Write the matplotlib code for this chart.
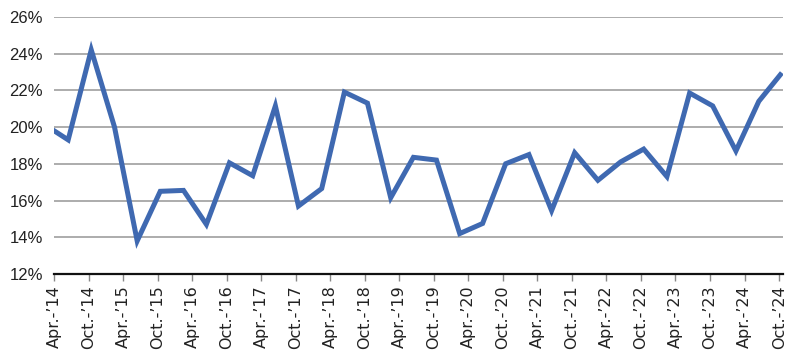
import matplotlib
matplotlib.use("Agg")
import matplotlib.pyplot as plt
import matplotlib.ticker as mticker
import pandas as pd

# Data (every four months)
dates = ["2014-02-15", "2014-06-15", "2014-10-15",
         "2015-02-15", "2015-06-15", "2015-10-15",
         "2016-02-15", "2016-06-15", "2016-10-15",
         "2017-02-15", "2017-06-15", "2017-10-15",
         "2018-02-15", "2018-06-15", "2018-10-15",
         "2019-02-15", "2019-06-15", "2019-10-15",
         "2020-02-15", "2020-06-15", "2020-10-15",
         "2021-02-15", "2021-06-15", "2021-10-15",
         "2022-02-15", "2022-06-15", "2022-10-15",
         "2023-02-15", "2023-06-15", "2023-10-15",
         "2024-02-15", "2024-06-15", "2024-10-15"]
values = [20.1, 19.3, 24.2,
          20.0, 13.8, 16.5,
          16.55, 14.7, 18.05,
          17.35, 21.15, 15.7,
          16.65, 21.9, 21.3,
          16.15, 18.35, 18.2,
          14.2, 14.75, 18.0,
          18.5, 15.45, 18.6,
          17.1, 18.1, 18.8,
          17.3, 21.85, 21.15,
          18.7, 21.4, 22.95]

tick_dates = pd.date_range("2014-04-01", "2024-10-01", freq="6MS")
tick_labels = [("Apr.-\u2019" if d.month == 4 else "Oct.-\u2019") + d.strftime("%y") for d in tick_dates]
y_ticks = [12, 14, 16, 18, 20, 22, 24, 26]

x = pd.to_datetime(dates)

fig = plt.figure(figsize=(8.0, 3.57), dpi=100)
ax = fig.add_axes([0.0675, 0.2325, 0.979 - 0.0675, 0.953 - 0.2325])

ax.plot(x, values, color="#3F69B1", linewidth=3.6, solid_joinstyle="miter", solid_capstyle="butt", zorder=3)

ax.set_xlim(pd.Timestamp("2014-04-01"), pd.Timestamp("2024-10-22"))
ax.set_ylim(12, 26)

ax.set_yticks(y_ticks)
ax.yaxis.set_major_formatter(mticker.FuncFormatter(lambda v, p: f"{v:.0f}%"))
ax.set_xticks(tick_dates)
ax.set_xticklabels(tick_labels, rotation=90, family=["Liberation Sans Narrow", "DejaVu Sans"], fontsize=11.5)

for lab in ax.get_yticklabels():
    lab.set_family(["Liberation Sans", "DejaVu Sans"])
    lab.set_fontsize(12)

ax.grid(axis="y", color="#A6A6A6", linewidth=1.3, zorder=0)
ax.set_axisbelow(True)
for s in ["top", "right", "left"]:
    ax.spines[s].set_visible(False)
ax.spines["bottom"].set_color("#111111")
ax.spines["bottom"].set_linewidth(1.6)
ax.spines["bottom"].set_zorder(4)
ax.tick_params(axis="y", length=0, pad=8, colors="#222222")
ax.tick_params(axis="x", length=5, width=1.0, color="#888888", pad=3, labelcolor="#222222")

fig.savefig("out.png", dpi=100)
